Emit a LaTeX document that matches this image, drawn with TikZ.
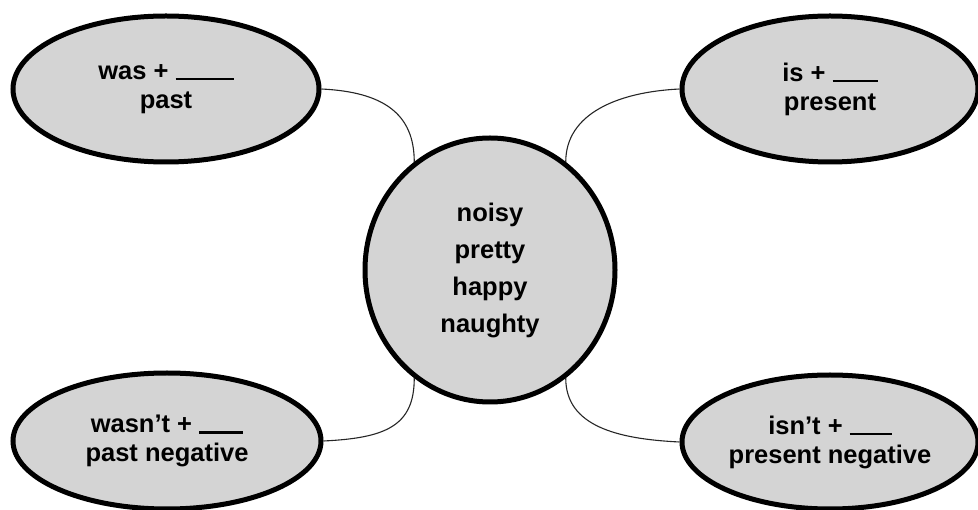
\documentclass[tikz,border=0pt]{standalone}
\usepackage{fontspec}
\setmainfont{Liberation Sans}
\usetikzlibrary{shapes.geometric}
\definecolor{fillgray}{RGB}{212,212,212}
\newcommand{\blankrule}[1]{\rule[-1pt]{#1pt}{2.5pt}}
\begin{document}
\begin{tikzpicture}[x=1pt,y=-1pt,
  bubble/.style={ellipse, draw=black, line width=5pt, fill=fillgray, inner sep=0pt, align=center,
    font=\fontsize{25.5}{29}\selectfont\bfseries},
  hub/.style={bubble, font=\fontsize{25.5}{37}\selectfont\bfseries},
  link/.style={line width=1.1pt, draw=black!85}]
\useasboundingbox (0,0) rectangle (978,510);
\node[hub, minimum width=250pt, minimum height=264pt] (c) at (490,270) {noisy\\pretty\\happy\\naughty};
\node[bubble, minimum width=306pt, minimum height=146pt] (tl) at (166,89) {was + \blankrule{58}\\past};
\node[bubble, minimum width=296pt, minimum height=146pt] (tr) at (830,89) {is + \blankrule{45}\\present};
\node[bubble, minimum width=308pt, minimum height=136pt] (bl) at (167,441) {wasn't + \blankrule{44}\\past negative};
\node[bubble, minimum width=296pt, minimum height=134pt] (br) at (830,442) {isn't + \blankrule{42}\\present negative};
\draw[link] (tl.east) .. controls +(62,3) and +(0,-48) .. (c.125);
\draw[link] (tr.west) .. controls +(-62,3) and +(0,-48) .. (c.55);
\draw[link] (bl.east) .. controls +(62,-3) and +(0,48) .. (c.235);
\draw[link] (br.west) .. controls +(-62,-3) and +(0,48) .. (c.305);
\end{tikzpicture}
\end{document}
